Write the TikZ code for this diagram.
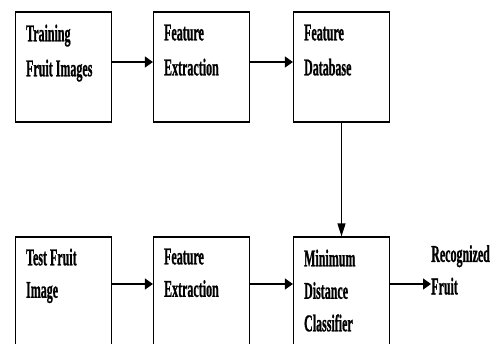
\documentclass[tikz,border=0pt]{standalone}
\usepackage{fontspec}
\setmainfont{Liberation Serif}[BoldFeatures={FakeBold=1.2}]
\usepackage{graphicx}
\usetikzlibrary{arrows.meta}
\newcommand{\nar}[1]{\scalebox{0.5}[1]{#1}}

\begin{document}
\begin{tikzpicture}[x=1pt, y=-1pt,
    block/.style={rectangle, draw=black, line width=1.2pt, minimum width=96pt, minimum height=110pt, inner sep=0pt},
    lbl/.style={anchor=north west, inner sep=0pt, align=left, font=\fontsize{24}{35}\selectfont\bfseries},
    lblb/.style={lbl, font=\fontsize{24}{32.5}\selectfont\bfseries},
    harrow/.style={line width=1.2pt, -{Triangle[length=8pt, width=11pt]}},
    varrow/.style={line width=1.2pt, -{Triangle[length=13pt, width=8pt]}}
]
    \clip (0,0) rectangle (502,343);
    \fill[white] (0,0) rectangle (502,343);

    % Training row
    \node (train) [block] at (63.5,67) {};
    \node (fextA) [block] at (201.5,67) {};
    \node (fdb) [block] at (341.5,67) {};
    \node (trainTxt) [lbl] at ([shift={(11,13)}]train.north west) {\nar{Training}\\\nar{Fruit Images}};
    \node (fextAtxt) [lbl] at ([shift={(11,13)}]fextA.north west) {\nar{Feature}\\\nar{Extraction}};
    \node (fdbTxt) [lbl] at ([shift={(11,13)}]fdb.north west) {\nar{Feature}\\\nar{Database}};

    % Test row
    \node (test) [block] at (63.5,292) {};
    \node (fextB) [block] at (201.5,292) {};
    \node (mdc) [block] at (341.5,292) {};
    \node (testTxt) [lblb] at ([shift={(11,12)}]test.north west) {\nar{Test Fruit}\\\nar{Image}};
    \node (fextBtxt) [lblb] at ([shift={(11,12)}]fextB.north west) {\nar{Feature}\\\nar{Extraction}};
    \node (mdcTxt) [lblb] at ([shift={(11,13)}]mdc.north west) {\nar{Minimum}\\\nar{Distance}\\\nar{Classifier}};

    % Output
    \node (result) [lblb] at (431,245) {\nar{Recognized}\\\nar{Fruit}};

    % Arrows
    \draw [harrow] ([yshift=5pt]train.east) -- ([yshift=5pt]fextA.west);
    \draw [harrow] ([yshift=5pt]fextA.east) -- ([yshift=5pt]fdb.west);
    \draw [varrow] (fdb.south) -- (mdc.north);
    \draw [harrow] ([yshift=8pt]test.east) -- ([yshift=8pt]fextB.west);
    \draw [harrow] ([yshift=8pt]fextB.east) -- ([yshift=8pt]mdc.west);
    \draw [harrow] ([yshift=8pt]mdc.east) -- ([yshift=8pt]mdc.east -| result.west);
\end{tikzpicture}
\end{document}
